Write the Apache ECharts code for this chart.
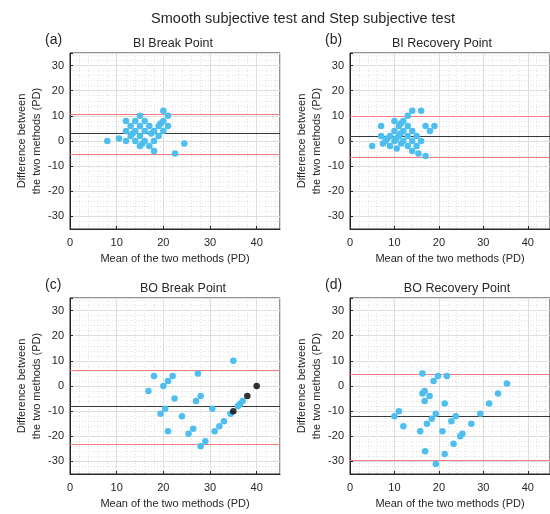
<!DOCTYPE html>
<html>
<head>
<meta charset="utf-8">
<script src="https://cdn.jsdelivr.net/npm/echarts@6/dist/echarts.min.js"></script>
<style>
html,body{margin:0;padding:0;background:#fff;}
#chart{width:550px;height:514px;}
</style>
</head>
<body>
<div id="chart"></div>
<script>
// ---- data (mean of two methods, difference) ----
const mainTitle = 'Smooth subjective test and Step subjective test';
const panelTitles = ['BI Break Point', 'BI Recovery Point', 'BO Break Point', 'BO Recovery Point'];
const panelLetters = ['(a)', '(b)', '(c)', '(d)'];
const xTickLabels = [0, 10, 20, 30, 40];
const yTickLabels = [-30, -20, -10, 0, 10, 20, 30];
const xLabel = 'Mean of the two methods (PD)';
const yLabel = 'Difference between\nthe two methods (PD)';

const biBreakPoints = [
  [8,0],[10.5,1],[12,0],[12,4],[12,8],[13,6],[13,2],[13.4,3],[14,8],[14,4],[14,0],
  [15,10],[15,6],[15,2],[15,-2],[15.5,-1],[16,0],[16,4],[16,8],[17,6],[17,-2],
  [17.4,3],[18,4],[18,0],[18,-4],[19,2],[19,6],[19.4,7],[20,8],[20,12],[20,4],
  [21,10],[21,6],[22.5,-5],[24.5,-1]
];
const biBreakLimits = [10.8, 3.2, -5.2];

const biRecoveryPoints = [
  [5,-2],[7,6],[7,2],[7.4,-1],[8,0],[8.4,1],[9,2],[9,-2],[10,8],[10,4],[10,0],
  [10.4,1],[10.5,-3],[11,6],[11,2],[11.4,7],[11.4,3],[11.5,-1],[12,8],[12,4],[12,0],
  [13,10],[13,6],[13,2],[13,-2],[14,12],[14,4],[14,0],[14,-4],[15,2],[15,-2],
  [15.4,-5],[16,12],[16,0],[17,6],[17,-6],[18,4],[19,6]
];
const biRecoveryLimits = [9.9, 1.85, -6.3];

const boBreakPoints = [
  [16.8,-2],[18,4],[20,0],[21,2],[22,4],[22.4,-5],[19.4,-11],[20.4,-9],[21,-18],
  [24,-12],[25.4,-19],[26.4,-17],[27,-6],[27.4,5],[28,-4],[28,-24],[29,-22],
  [30.5,-9],[31,-18],[32,-16],[33,-14],[34.4,-11],[35,10],[36,-8],[36.4,-7.2],[37,-6]
];
const boBreakBlackPoints = [[35,-10],[38,-4],[40,0]];
const boBreakLimits = [6.4, -8.2, -23.2];

const boRecoveryPoints = [
  [10,-12],[11,-10],[12,-16],[15.8,-18],[16.3,5],[16.3,-3],[16.8,-2],[16.8,-6],
  [16.9,-26],[17.3,-15],[17.9,-4],[18.4,-13],[18.8,2],[19.3,-11],[19.3,-31],
  [19.8,4],[20.8,-18],[21.3,-7],[21.3,-27],[21.8,4],[22.8,-14],[23.3,-23],
  [23.8,-12],[24.8,-20],[25.3,-19],[27.3,-15],[29.3,-11],[31.3,-7],[33.3,-3],[35.3,1]
];
const boRecoveryLimits = [4.7, -12, -29.5];

// ---- layout ----
const panels = [
  {pts: biBreakPoints, lim: biBreakLimits, left: 70, top: 53, tx: 168},
  {pts: biRecoveryPoints, lim: biRecoveryLimits, left: 350, top: 53, tx: 437},
  {pts: boBreakPoints, lim: boBreakLimits, left: 70, top: 298, tx: 178},
  {pts: boRecoveryPoints, lim: boRecoveryLimits, left: 350, top: 298, tx: 452}
];
const PW = 210, PH = 176;
const FONT = '"Liberation Sans", Arial, Helvetica, sans-serif';
const TXT = '#262626';
const BLUE = '#4DBEEE';
const RED = '#F47C7C';

const grids = [], xAxes = [], yAxes = [], series = [], titles = [];
titles.push({text: mainTitle, left: 298, top: 6, textAlign: 'center',
  textStyle: {fontFamily: FONT, fontSize: 14.5, fontWeight: 'normal', color: TXT}});

panels.forEach((p, i) => {
  grids.push({left: p.left, top: p.top, width: PW, height: PH, show: true,
    borderColor: '#262626', borderWidth: 1, backgroundColor: 'transparent'});
  xAxes.push({type: 'value', gridIndex: i, min: 0, max: 45, interval: 10,
    axisLine: {show: true, onZero: false, lineStyle: {color: '#262626'}},
    axisTick: {show: true, inside: true, length: 3, lineStyle: {color: '#262626'}},
    minorTick: {show: false, splitNumber: 5},
    axisLabel: {fontFamily: FONT, fontSize: 11, color: TXT, margin: 8, showMaxLabel: false,
      formatter: v => xTickLabels.includes(v) ? String(v) : ''},
    splitLine: {show: true, lineStyle: {color: '#dedede', width: 1}},
    minorSplitLine: {show: true, lineStyle: {color: '#e2e2e2', type: [1, 2], width: 1}},
    name: xLabel, nameLocation: 'middle', nameGap: 24,
    nameTextStyle: {fontFamily: FONT, fontSize: 11, color: TXT}
  });
  yAxes.push({type: 'value', gridIndex: i, min: -35, max: 35, splitNumber: 7,
    axisLine: {show: true, onZero: false, lineStyle: {color: '#262626'}},
    axisTick: {show: true, inside: true, length: 3, lineStyle: {color: '#262626'}},
    minorTick: {show: false, splitNumber: 5},
    axisLabel: {fontFamily: FONT, fontSize: 11, color: TXT, margin: 6,
      formatter: v => yTickLabels.includes(v) ? String(v) : ''},
    splitLine: {show: true, lineStyle: {color: '#dedede', width: 1}},
    minorSplitLine: {show: true, lineStyle: {color: '#e2e2e2', type: [1, 2], width: 1}},
    name: yLabel, nameLocation: 'middle', nameGap: 25, nameRotate: 90,
    nameTextStyle: {fontFamily: FONT, fontSize: 11, color: TXT, lineHeight: 15}
  });
  series.push({type: 'scatter', xAxisIndex: i, yAxisIndex: i, data: p.pts,
    symbolSize: 6.5, itemStyle: {color: BLUE, opacity: 1}, z: 5,
    markLine: {silent: true, symbol: 'none', label: {show: false},
      animation: false,
      data: [
        {yAxis: p.lim[0], lineStyle: {color: RED, width: 1, type: 'solid'}},
        {yAxis: p.lim[1], lineStyle: {color: '#383838', width: 1, type: 'solid'}},
        {yAxis: p.lim[2], lineStyle: {color: RED, width: 1, type: 'solid'}}
      ]}
  });
  titles.push({text: panelTitles[i], left: p.tx, top: p.top - 21, textAlign: 'center',
    textStyle: {fontFamily: FONT, fontSize: 12.5, fontWeight: 'normal', color: TXT}});
  titles.push({text: panelLetters[i], left: p.left - 30, top: p.top - 25, textAlign: 'left',
    textStyle: {fontFamily: FONT, fontSize: 14, fontWeight: 'normal', color: TXT}});
});
series.push({type: 'scatter', xAxisIndex: 2, yAxisIndex: 2, data: boBreakBlackPoints,
  symbolSize: 6.5, itemStyle: {color: '#000000'}, z: 6});

const chart = echarts.init(document.getElementById('chart'), null, {renderer: 'canvas'});
chart.setOption({
  animation: false,
  backgroundColor: '#ffffff',
  title: titles,
  grid: grids,
  xAxis: xAxes,
  yAxis: yAxes,
  series: series
});
</script>
</body>
</html>
